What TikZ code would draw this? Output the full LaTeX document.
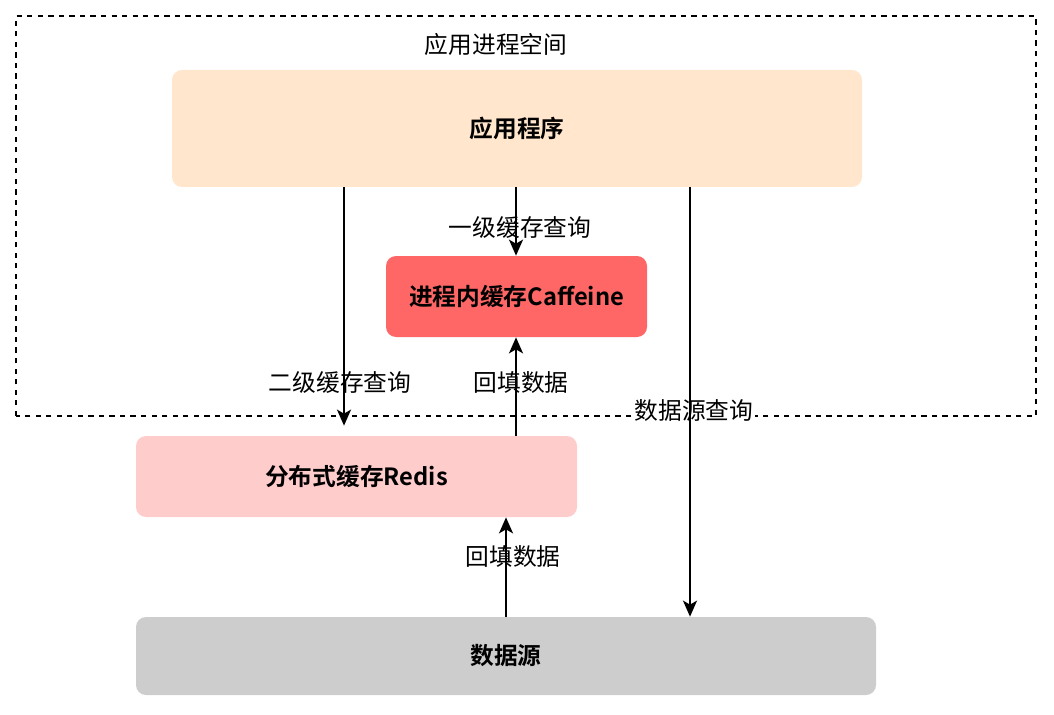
\documentclass[tikz,border=0pt]{standalone}
\usepackage{fontspec}
\setmainfont{Noto Sans CJK SC}[BoldFont={Noto Sans CJK SC Bold}]
\usetikzlibrary{arrows.meta}
\definecolor{appfill}{HTML}{FFE6CC}
\definecolor{l1fill}{HTML}{FF6666}
\definecolor{l2fill}{HTML}{FFCCCC}
\definecolor{dbfill}{HTML}{CDCDCD}
\tikzset{
>={Stealth[length=0.32cm,width=0.28cm,inset=0.08cm]},
box/.style={rectangle, rounded corners=0.2cm, draw=none, font=\fontsize{13.5}{16}\selectfont\bfseries},
arr/.style={->, line width=1.2pt},
lbl/.style={fill=white, inner sep=1pt, font=\fontsize{13.5}{16}\selectfont},
}

\begin{document}
\begin{tikzpicture}
        \useasboundingbox (0,0) rectangle (21.08,14.28);
        \draw[dashed, line width=0.8pt] (0.32,5.96) rectangle (20.72,13.96);
        \node[font=\fontsize{13.5}{16}\selectfont] (space) at (9.92,13.4) {应用进程空间};

        \node[box, fill=appfill, minimum width=13.8cm, minimum height=2.34cm] (app) at (10.34,11.71) {应用程序};
        \node[box, fill=l1fill, minimum width=5.22cm, minimum height=1.62cm] (l1) at (10.33,8.35) {进程内缓存Caffeine};
        \node[box, fill=l2fill, minimum width=8.82cm, minimum height=1.62cm] (l2) at (7.13,4.75) {分布式缓存Redis};
        \node[box, fill=dbfill, minimum width=14.8cm, minimum height=1.56cm] (db) at (10.12,1.16) {数据源};

        \coordinate (c1) at (10.32,0);
        \coordinate (c2) at (6.88,0);
        \coordinate (c3) at (13.8,0);
        \coordinate (c4) at (10.12,0);

        \node[lbl] (q1) at (10.4,9.72) {一级缓存查询};
        \node[lbl] (q2) at (6.8,6.62) {二级缓存查询};
        \node[lbl] (f1) at (10.42,6.62) {回填数据};
        \node[lbl] (q3) at (13.88,6.06) {数据源查询};
        \node[lbl] (f2) at (10.26,3.14) {回填数据};

        \draw[arr] (app.south -| c1) -- (l1.north -| c1);
        \draw[arr, shorten >=0.2cm] (app.south -| c2) -- (l2.north -| c2);
        \draw[arr] (l2.north -| c1) -- (l1.south -| c1);
        \draw[arr] (app.south -| c3) -- (db.north -| c3);
        \draw[arr] (db.north -| c4) -- (l2.south -| c4);
    \end{tikzpicture}
\end{document}
